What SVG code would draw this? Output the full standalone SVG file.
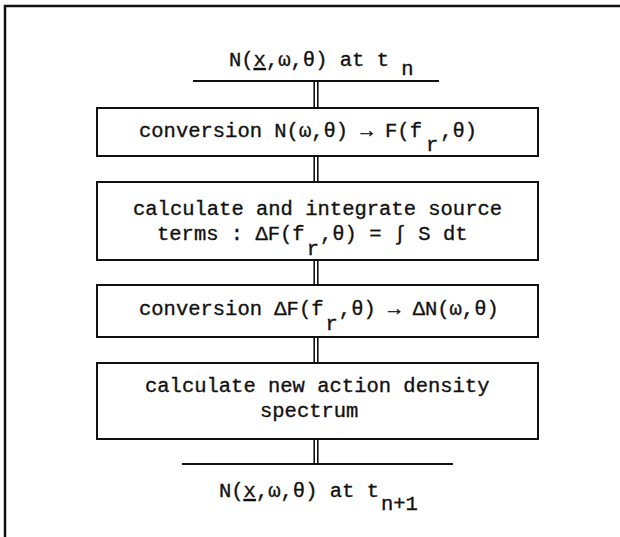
<svg xmlns="http://www.w3.org/2000/svg" width="620" height="537" viewBox="0 0 620 537">
  <style>
    .frame { stroke: #111; stroke-width: 2.5; fill: none; }
    .box { stroke: #111; stroke-width: 2; fill: #fff; }
    .rule { stroke: #111; stroke-width: 2; fill: none; }
    .link { stroke: #111; stroke-width: 1.6; fill: none; }
    text { font-family: "Liberation Mono", "Courier New", monospace; font-size: 20.5px; fill: #111; stroke: #111; stroke-width: 0.35; }
    .ul { text-decoration: underline; }
  </style>
  <rect width="620" height="537" fill="#fff"/>
  <!-- page frame: top and left edges only -->
  <path class="frame" d="M5,537 V6 H620"/>

  <!-- double-line connectors between stages -->
  <g id="connectors">
    <path class="link" d="M314.2,81 V108 M317.8,81 V108"/>
    <path class="link" d="M314.2,156 V182 M317.8,156 V182"/>
    <path class="link" d="M314.2,260 V285 M317.8,260 V285"/>
    <path class="link" d="M314.2,337 V363 M317.8,337 V363"/>
    <path class="link" d="M314.2,439 V464 M317.8,439 V464"/>
  </g>

  <g id="input">
    <text x="229" y="66">N(<tspan class="ul">x</tspan>,ω,θ) at t <tspan dy="9">n</tspan></text>
    <line class="rule" x1="193" y1="81" x2="439" y2="81"/>
  </g>

  <g id="step1">
    <rect class="box" x="97" y="108" width="441" height="48"/>
    <text x="139" y="137">conversion N(ω,θ) → F(f<tspan dx="4" dy="14">r</tspan><tspan dx="2" dy="-14">,θ)</tspan></text>
  </g>

  <g id="step2">
    <rect class="box" x="97" y="182" width="441" height="78"/>
    <text x="133" y="215">calculate and integrate source</text>
    <text x="157" y="240">terms : ΔF(f<tspan dx="2" dy="15">r</tspan><tspan dx="1" dy="-15">,θ) = ∫ S dt</tspan></text>
  </g>

  <g id="step3">
    <rect class="box" x="97" y="285" width="441" height="52"/>
    <text x="139" y="315">conversion ΔF(f<tspan dx="2" dy="15">r</tspan><tspan dx="1" dy="-15">,θ) → ΔN(ω,θ)</tspan></text>
  </g>

  <g id="step4">
    <rect class="box" x="97" y="363" width="441" height="76"/>
    <text x="145" y="392">calculate new action density</text>
    <text x="260" y="417">spectrum</text>
  </g>

  <g id="output">
    <line class="rule" x1="182" y1="464" x2="453" y2="464"/>
    <text x="219" y="497">N(<tspan class="ul">x</tspan>,ω,θ) at t<tspan dx="2" dy="13">n+1</tspan></text>
  </g>
</svg>
